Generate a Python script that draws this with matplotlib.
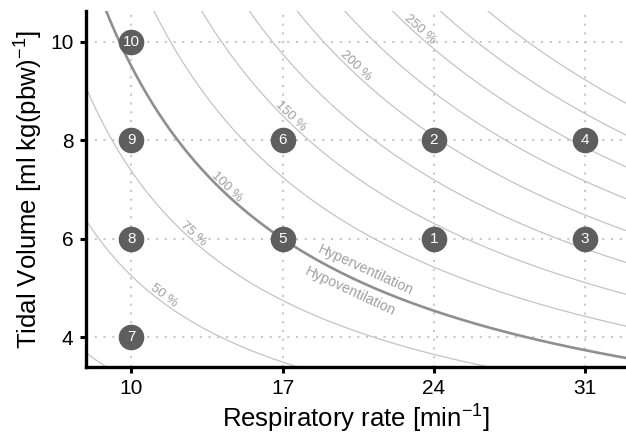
import numpy as np
import matplotlib
matplotlib.use("Agg")
import matplotlib.pyplot as plt

plt.rcParams["font.family"] = ["Liberation Sans", "DejaVu Sans"]
plt.rcParams["mathtext.fontset"] = "custom"
plt.rcParams["mathtext.rm"] = "Liberation Sans"
plt.rcParams["mathtext.it"] = "Liberation Sans"

# ventilation settings (numbered points)
point_ids = [1, 2, 3, 4, 5, 6, 7, 8, 9, 10]
point_rr = [24, 24, 31, 31, 17, 17, 10, 10, 10, 10]
point_vt = [6, 8, 6, 8, 6, 8, 4, 6, 8, 10]

# iso-ventilation lines: (VT - dead_space) * RR = reference * level
dead_space = 1.0
reference = 85.0
levels = [0.25, 0.5, 0.75, 1.0, 1.25, 1.5, 1.75, 2.0, 2.25, 2.5, 2.75, 3.0]
label_levels = [0.5, 0.75, 1.0, 1.5, 2.0, 2.5]
label_rr = [11.35, 12.7, 14.25, 17.2, 20.2, 23.2]

x_ticks = [10, 17, 24, 31]
y_ticks = [4, 6, 8, 10]

fig = plt.figure(figsize=(6.26, 4.38), dpi=100)
ax = fig.add_axes([86 / 626, 1 - 367 / 438, 1 - 86 / 626, (367 - 11) / 438])
ax.set_xlim(7.9, 32.9)
ax.set_ylim(3.4, 10.62)

ax.set_xticks(x_ticks)
ax.set_yticks(y_ticks)
ax.grid(True, color="#c8c8c8", linestyle=(0, (1, 3.2)), linewidth=1.5)
ax.set_axisbelow(True)

rr = np.linspace(7.5, 34, 500)


def vt_at(r, lev):
    return dead_space + reference * lev / r


for lev in levels:
    if lev == 1.0:
        ax.plot(rr, vt_at(rr, lev), color="#8f8f8f", lw=1.9, zorder=2)
    else:
        ax.plot(rr, vt_at(rr, lev), color="#c4c4c4", lw=0.9, zorder=1)


def screen_angle(r, lev):
    p1 = ax.transData.transform((r - 0.05, vt_at(r - 0.05, lev)))
    p2 = ax.transData.transform((r + 0.05, vt_at(r + 0.05, lev)))
    return np.degrees(np.arctan2(p2[1] - p1[1], p2[0] - p1[0]))


def line_label(r, lev, text, off, size, color):
    ang = screen_angle(r, lev)
    t = np.radians(ang)
    ax.annotate(text, (r, vt_at(r, lev)),
                xytext=(-np.sin(t) * off, np.cos(t) * off),
                textcoords="offset points", rotation=ang,
                rotation_mode="anchor", ha="center", va="center",
                fontsize=size, color=color, zorder=3)


for r, lev in zip(label_rr, label_levels):
    line_label(r, lev, f"{int(round(lev * 100))} %", 4.2, 9.5, "#a0a0a0")

line_label(20.6, 1.0, "Hyperventilation", 9.4, 10.3, "#a0a0a0")
line_label(20.4, 1.0, "Hypoventilation", -9.0, 10.3, "#a0a0a0")

ax.scatter(point_rr, point_vt, s=340, color="#5e5e5e", zorder=4, linewidths=0)
for i, r, v in zip(point_ids, point_rr, point_vt):
    ax.text(r, v, str(i), color="white", fontsize=11, ha="center",
            va="center", zorder=5)

for side in ["top", "right"]:
    ax.spines[side].set_visible(False)
for side in ["left", "bottom"]:
    ax.spines[side].set_linewidth(2.4)
ax.tick_params(width=2.2, length=4, labelsize=15, color="black", pad=5)

ax.set_xlabel(r"Respiratory rate [min$^{-1}$]", fontsize=18.5, labelpad=3)
ax.set_ylabel(r"Tidal Volume [ml kg(pbw)$^{-1}$]", fontsize=18.5, labelpad=4)

fig.savefig("out.png", dpi=100)
